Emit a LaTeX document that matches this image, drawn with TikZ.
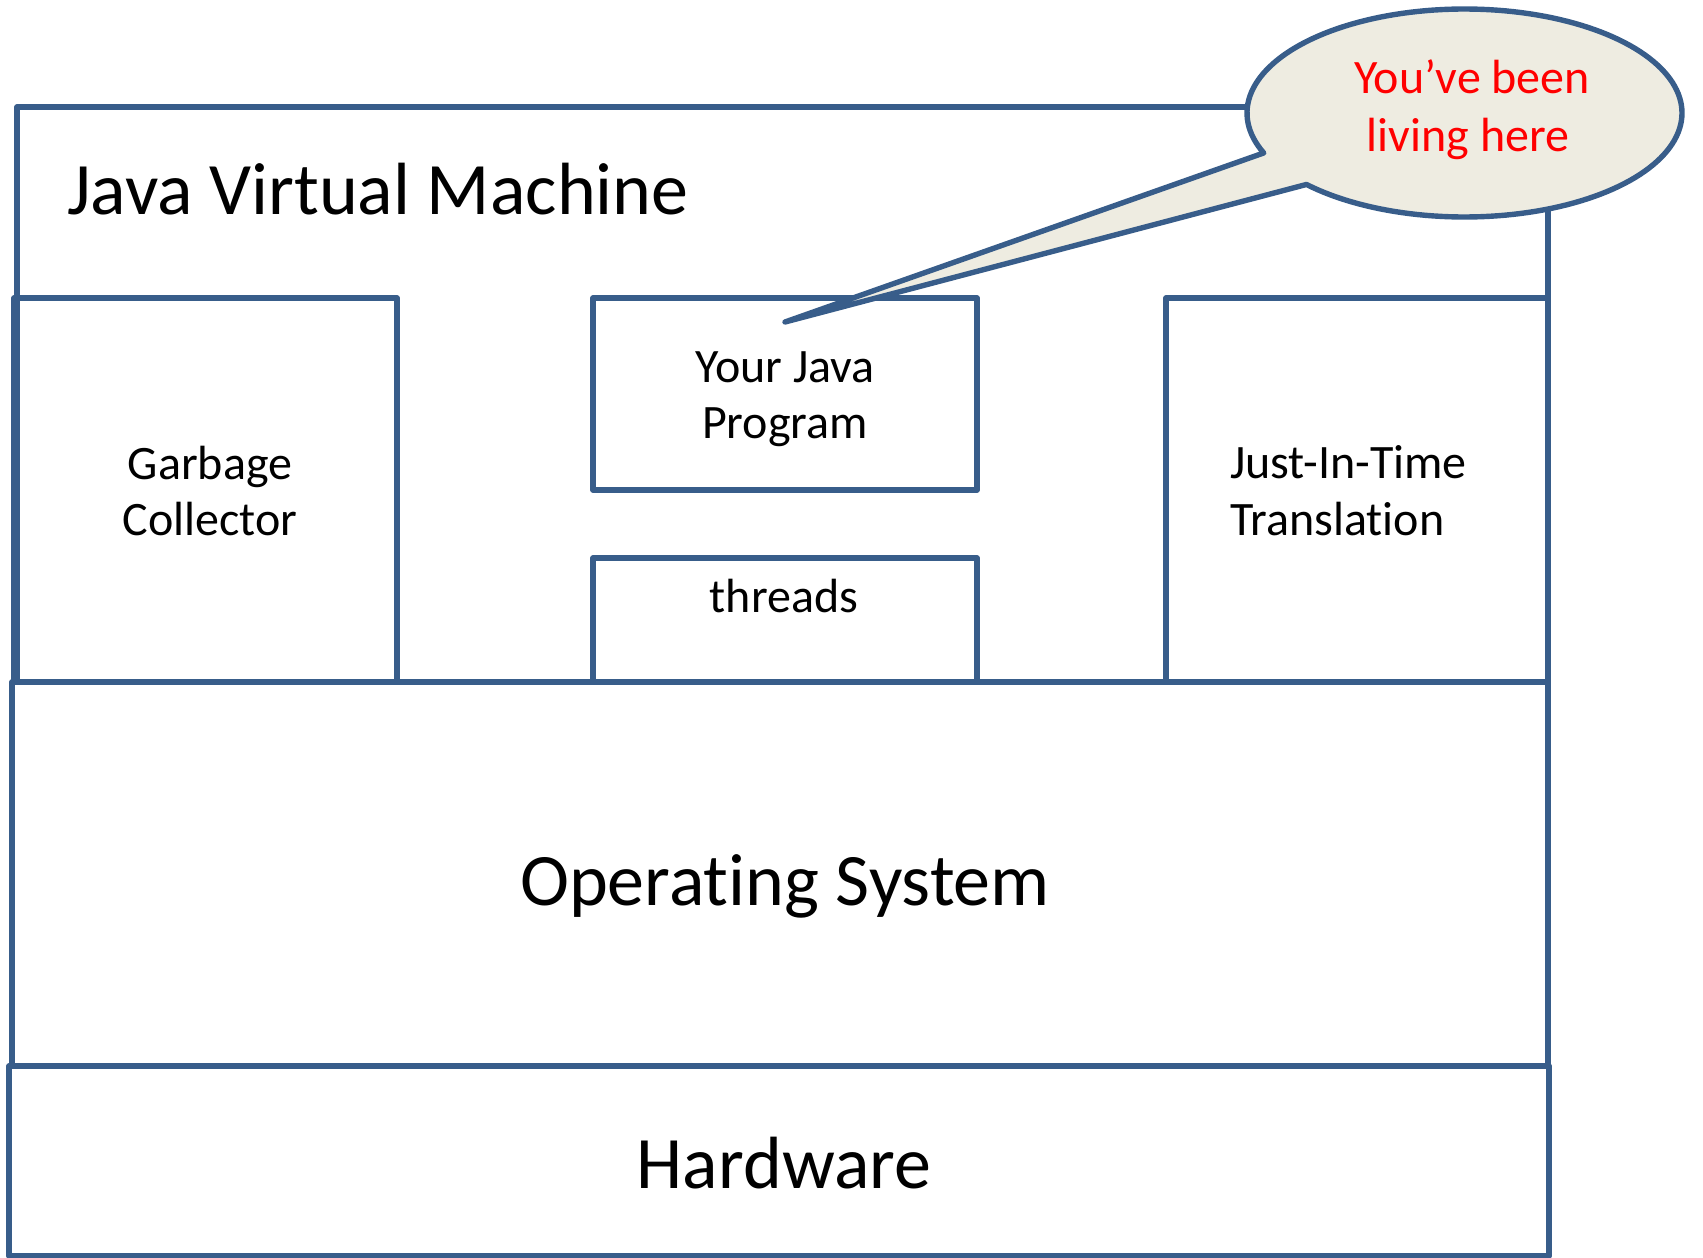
\documentclass[tikz,border=0pt]{standalone}
\usepackage{fontspec}
\setmainfont{Carlito}[Ligatures=NoCommon, Contextuals=NoAlternate]
\definecolor{edge}{RGB}{56,93,138}
\definecolor{tan}{RGB}{238,236,225}
\definecolor{redtxt}{RGB}{255,0,0}
\begin{document}
\begin{tikzpicture}[x=1pt,y=-1pt,
  boxline/.style={draw=edge, line width=5.4pt, line join=round},
  big/.style={font=\fontsize{74}{89}\selectfont, inner sep=0pt, anchor=base},
  small/.style={font=\fontsize{48}{58}\selectfont, inner sep=0pt, anchor=base},
  redlbl/.style={small, text=redtxt}]
\useasboundingbox (0,0) rectangle (1703,1258);
% boxes
\draw[boxline] (17,107) rectangle (1548,682);
\draw[boxline] (14,298) rectangle (397,682);
\draw[boxline] (593,298) rectangle (977,490);
\draw[boxline] (593,558) rectangle (977,682);
\draw[boxline] (1166,298) rectangle (1548,682);
\draw[boxline] (12,682) rectangle (1548,1066);
\draw[boxline] (9,1066) rectangle (1549,1256);
% labels
\node[big, anchor=base west] (jvm) at (67,214) {Java Virtual Machine};
\node[big] (os) at (785,905) {Operat\kern0pt ing System};
\node[big] (hw) at (784,1188) {Hardware};
\node[small] (gc1) at (210,479) {Garbage};
\node[small] (gc2) at (210,535) {Collector};
\node[small] (yjp1) at (785,382) {Your Java};
\node[small] (yjp2) at (785,438) {Program};
\node[small] (thr) at (784,612) {threads};
\node[small, anchor=base west] (jit1) at (1230,478) {Just-In-Time};
\node[small, anchor=base west] (jit2) at (1230,535) {Translat\kern0pt ion};
% callout
\coordinate (tip) at (785,322);
\filldraw[boxline, fill=tan]
  plot[domain=157.4:496.6, samples=160] ({1464.5+217.5*cos(\x)}, {113+104*sin(\x)})
  -- (tip) -- cycle;
\node[redlbl] (say1) at (1472,93) {You’ve been};
\node[redlbl] (say2) at (1468,151) {living here};
\end{tikzpicture}
\end{document}
